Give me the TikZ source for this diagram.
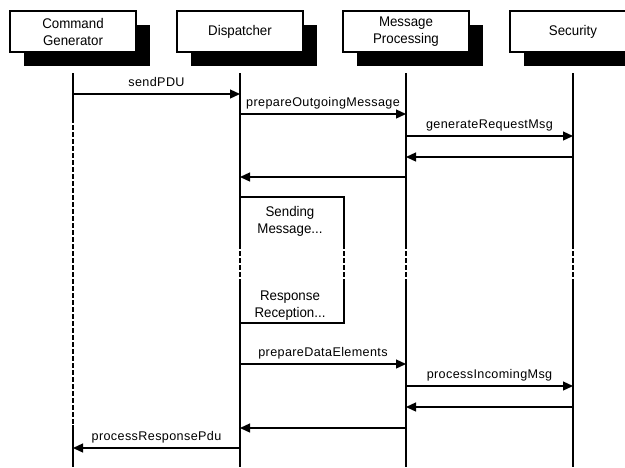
\documentclass[tikz,border=0pt]{standalone}
\usepackage{fontspec}
\setmainfont{Liberation Sans}
\newfontfamily\headfont[FakeStretch=0.95]{Liberation Sans}
\newfontfamily\callfont[LetterSpace=3]{Liberation Sans}
\usetikzlibrary{arrows.meta,shadows}
\begin{document}
\begin{tikzpicture}[x=1pt,y=-1pt,
  actor/.style={draw=black, line width=1.2pt, fill=white,
    minimum width=126pt, minimum height=41pt, inner sep=0pt, align=center,
    font=\headfont\fontsize{14}{17}\selectfont,
    drop shadow={shadow xshift=14pt, shadow yshift=-14pt, fill=black, opacity=1}},
  life/.style={line width=1.8pt},
  lifedash/.style={line width=1.8pt, dash pattern=on 5pt off 2pt},
  edge/.style={line width=1.6pt},
  msg/.style={line width=1.3pt, -{Triangle[length=10pt,width=9pt]}},
  lbl/.style={font=\callfont\fontsize{12.6}{15}\selectfont, anchor=base, inner sep=0pt, yshift=7.5pt},
  note/.style={align=center, inner sep=0pt, font=\headfont\fontsize{14}{17}\selectfont},
]
\useasboundingbox (0,0) rectangle (625,467);
\clip (0,0) rectangle (625,467);

% participants
\node[actor] (cg)   at (73,31.5)  {Command\\Generator};
\node[actor] (disp) at (240,31.5) {Dispatcher};
\node[actor] (mp)   at (406,31.5) {Message\\Processing};
\node[actor] (sec)  at (573,31.5) {Security};

% vertical reference levels
\coordinate (top) at (0,73);
\coordinate (bot) at (0,467);
\coordinate (ga)  at (0,118);
\coordinate (gb)  at (0,425);
\coordinate (ha)  at (0,244);
\coordinate (hb)  at (0,279);

% lifelines
\draw[life] (cg |- top) -- (cg |- ga);
\draw[lifedash] (cg |- ga) -- (cg |- gb);
\draw[life] (cg |- gb) -- (cg |- bot);
\foreach \p in {disp,mp,sec}{
  \draw[life] (\p |- top) -- (\p |- ha);
  \draw[lifedash] (\p |- ha) -- (\p |- hb);
  \draw[life] (\p |- hb) -- (\p |- bot);
}

% activity frame on the dispatcher
\node[minimum width=104pt, minimum height=126pt, inner sep=0pt] (act) at (292,260) {};
\draw[edge] (act.north west) -- (act.north east) -- (act.east |- ha);
\draw[lifedash, line width=1.6pt] (act.east |- ha) -- (act.east |- hb);
\draw[edge] (act.east |- hb) -- (act.south east) -- (act.south west);
\node[note] (snd) at (290,221.6) {Sending\\Message...};
\node[note] (rcv) at (290,305.7) {Response\\Reception...};

% message levels
\coordinate (m1)  at (0,94);
\coordinate (m2)  at (0,114);
\coordinate (m3)  at (0,136);
\coordinate (m4)  at (0,157);
\coordinate (m5)  at (0,177);
\coordinate (m7)  at (0,364);
\coordinate (m8)  at (0,386);
\coordinate (m9)  at (0,407);
\coordinate (m10) at (0,428);
\coordinate (m11) at (0,448);

% messages
\draw[msg] (cg |- m1) -- node[lbl] {sendPDU} (disp |- m1);
\draw[msg] (disp |- m2) -- node[lbl] {prepareOutgoingMessage} (mp |- m2);
\draw[msg] (mp |- m3) -- node[lbl] {generateRequestMsg} (sec |- m3);
\draw[msg] (sec |- m4) -- (mp |- m4);
\draw[msg] (mp |- m5) -- (disp |- m5);
\draw[msg] (disp |- m7) -- node[lbl] {prepareDataElements} (mp |- m7);
\draw[msg] (mp |- m8) -- node[lbl] {processIncomingMsg} (sec |- m8);
\draw[msg] (sec |- m9) -- (mp |- m9);
\draw[msg] (mp |- m10) -- (disp |- m10);
\draw[msg] (disp |- m11) -- node[lbl] {processResponsePdu} (cg |- m11);
\end{tikzpicture}
\end{document}
